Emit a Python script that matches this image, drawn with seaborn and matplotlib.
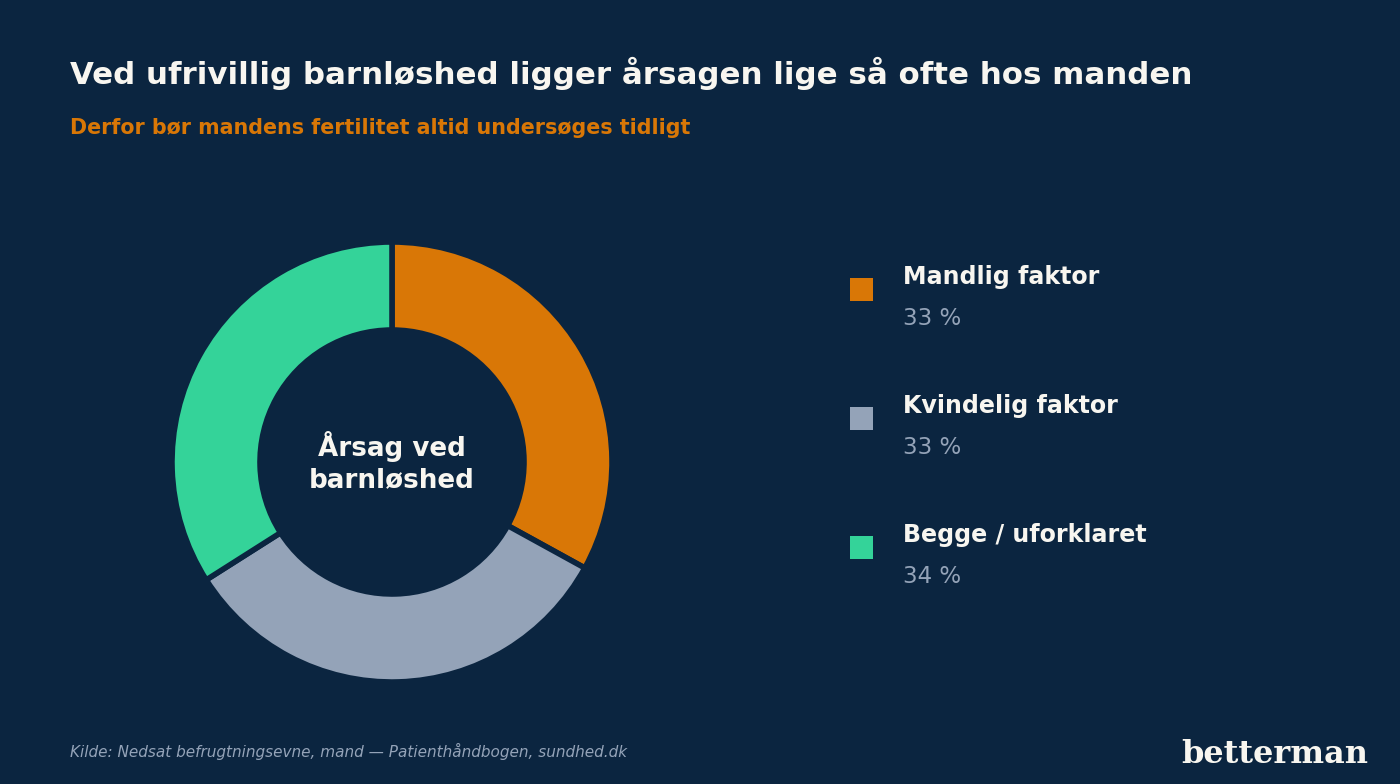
import matplotlib
matplotlib.use("Agg")
import matplotlib.pyplot as plt
import seaborn as sns
from matplotlib.patches import Rectangle

# data
categories = ["Mandlig faktor", "Kvindelig faktor", "Begge / uforklaret"]
shares = [33, 33, 34]
share_labels = ["33 %", "33 %", "34 %"]
colors = ["#d97706", "#94a3b8", "#34d399"]

bg = "#0b2540"
fg = "#f8f6f0"
muted = "#94a3b8"

sns.set_theme(style="white")
plt.rcParams["font.family"] = ["DejaVu Sans"]

W, H = 1400, 784
fig = plt.figure(figsize=(14, 7.84), dpi=100, facecolor=bg)

def fx(px):
    return px / W

def fy(py):
    return 1 - py / H

# donut
cx, cy, r_out = 392, 462, 220
half = 235
ax = fig.add_axes([fx(cx - half), fy(cy + half), 2 * half / W, 2 * half / H])
ax.set_facecolor(bg)
ax.pie(shares, colors=colors, startangle=90, counterclock=False, radius=1,
       wedgeprops=dict(width=0.40, edgecolor=bg, linewidth=4))
lim = half / r_out
ax.set_xlim(-lim, lim)
ax.set_ylim(-lim, lim)
ax.set_aspect("equal")
ax.axis("off")
ax.text(0, 0, "Årsag ved\nbarnløshed", ha="center", va="center", color=fg,
        fontsize=18.8, fontweight="bold", linespacing=1.25)

# titles
fig.text(fx(70), fy(84), "Ved ufrivillig barnløshed ligger årsagen lige så ofte hos manden",
         color=fg, fontsize=22.25, fontweight="bold", va="baseline")
fig.text(fx(70), fy(134), "Derfor bør mandens fertilitet altid undersøges tidligt",
         color="#d97706", fontsize=14.9, fontweight="bold", va="baseline")

# legend
for i, (name, lab, c) in enumerate(zip(categories, share_labels, colors)):
    y0 = 290 + i * 129
    fig.patches.append(Rectangle((fx(850), fy(y0 + 11)), 23 / W, 23 / H,
                                 transform=fig.transFigure, facecolor=c,
                                 edgecolor="none"))
    fig.text(fx(903), fy(y0 - 6), name, color=fg, fontsize=17.1,
             fontweight="bold", va="baseline")
    fig.text(fx(903), fy(y0 + 35), lab, color=muted, fontsize=16.6,
             va="baseline")

# footer
fig.text(fx(70), fy(757), "Kilde: Nedsat befrugtningsevne, mand — Patienthåndbogen, sundhed.dk",
         color=muted, fontsize=11, style="italic", va="baseline")
fig.text(fx(1368), fy(763), "betterman", color=fg, fontsize=23,
         fontweight="bold", family="DejaVu Serif", ha="right", va="baseline")

fig.savefig("out.png", dpi=100, facecolor=bg)
